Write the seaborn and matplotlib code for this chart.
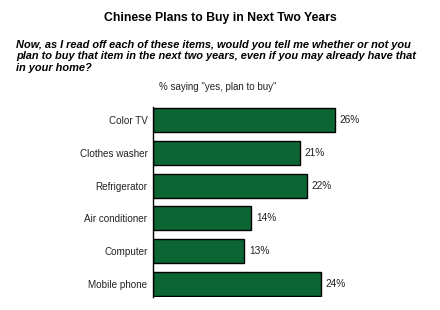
import matplotlib
matplotlib.use("Agg")
import matplotlib.pyplot as plt
import seaborn as sns
import pandas as pd

categories = ["Color TV", "Clothes washer", "Refrigerator", "Air conditioner", "Computer", "Mobile phone"]
values = [26, 21, 22, 14, 13, 24]
value_labels = ["26%", "21%", "22%", "14%", "13%", "24%"]

title = "Chinese Plans to Buy in Next Two Years"
question = ("Now, as I read off each of these items, would you tell me whether or not you\n"
            "plan to buy that item in the next two years, even if you may already have that\n"
            "in your home?")
subtitle = '% saying "yes, plan to buy"'

sns.set_theme(style="white")
plt.rcParams['font.family'] = ['Liberation Sans', 'DejaVu Sans']
plt.rcParams['text.color'] = 'black'

df = pd.DataFrame({"item": categories, "pct": values})

W, H = 440, 310
fig = plt.figure(figsize=(W / 100, H / 100), dpi=100)
ax_left, ax_right = 153, 153 + 7 * 40
ax_top, ax_bottom = 107, 297
ax = fig.add_axes([ax_left / W, 1 - ax_bottom / H, (ax_right - ax_left) / W, (ax_bottom - ax_top) / H])

sns.barplot(data=df, x="pct", y="item", color="#0B6634", saturation=1, width=0.73,
            edgecolor="black", linewidth=1, ax=ax)
ax.set_xlim(0, 40)
ax.set_ylim(5.4, -0.4)
for i, (v, lab) in enumerate(zip(values, value_labels)):
    ax.text(v + 0.7, i, lab, va="center", ha="left", fontsize=7.3, color="#222222")

ax.set_xlabel("")
ax.set_ylabel("")
ax.set_xticks([])
ax.tick_params(axis="y", length=0, pad=4, labelsize=7.1, labelcolor="#222222")
for s in ["top", "right", "bottom"]:
    ax.spines[s].set_visible(False)
ax.spines["left"].set_color("black")
ax.spines["left"].set_linewidth(1)

fig.text(220 / W, 1 - 18 / H, title, ha="center", va="center", fontsize=8.8, fontweight="bold",
         color="black")
fig.text(16 / W, 1 - 39.5 / H, question, ha="left", va="top", fontsize=7.9,
         fontweight="bold", style="italic", linespacing=1.2, color="black")
fig.text(218 / W, 1 - 87 / H, subtitle, ha="center", va="center", fontsize=7, color="#222222")

fig.savefig("out.png", dpi=100, facecolor="white")
